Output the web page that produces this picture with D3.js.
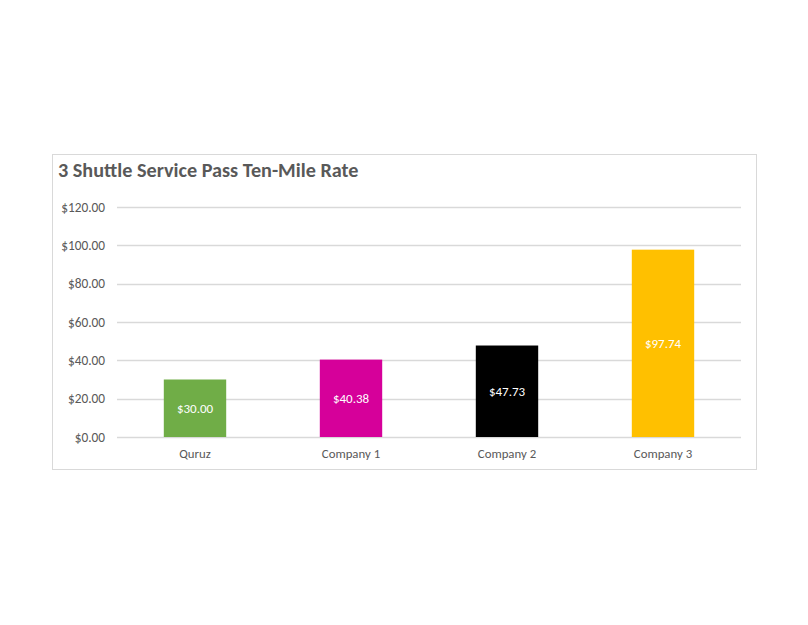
<!DOCTYPE html>
<html>
<head>
<meta charset="utf-8">
<script src="https://cdn.jsdelivr.net/npm/d3@7"></script>
<style>
  body { margin: 0; background: #fff; }
  text { font-family: Carlito, Calibri, Lato, "Open Sans", sans-serif; }
</style>
</head>
<body>
<div id="chart"></div>
<script>
// chart data
const categories = ["Quruz", "Company 1", "Company 2", "Company 3"];
const rates = [30.00, 40.38, 47.73, 97.74];
const barColors = ["#70AD47", "#D6009A", "#000000", "#FFC000"];
const yTicks = [0, 20, 40, 60, 80, 100, 120];

const width = 808;
const height = 625;

const svg = d3.select("#chart").append("svg")
    .attr("width", width)
    .attr("height", height);

// chart frame
svg.append("rect")
    .attr("x", 52.5).attr("y", 154.5)
    .attr("width", 704).attr("height", 315)
    .attr("fill", "#fff")
    .attr("stroke", "#d9d9d9")
    .attr("stroke-width", 1);

svg.append("text")
    .attr("x", 58).attr("y", 177)
    .attr("font-size", 20.2)
    .attr("font-weight", "bold")
    .attr("fill", "#595959")
    .text("3 Shuttle Service Pass Ten-Mile Rate");

const plotLeft = 117, plotRight = 741;

const x = d3.scaleBand()
    .domain(categories)
    .range([plotLeft, plotRight])
    .paddingInner(0.6)
    .paddingOuter(0.3);

const y = d3.scaleLinear()
    .domain([0, 120])
    .range([437, 207]);

// gridlines
svg.append("g")
    .selectAll("line")
    .data(yTicks)
    .enter()
    .append("line")
    .attr("x1", plotLeft).attr("x2", plotRight)
    .attr("y1", d => Math.round(y(d)) + 0.5)
    .attr("y2", d => Math.round(y(d)) + 0.5)
    .attr("stroke", "#d9d9d9")
    .attr("stroke-width", 1.3);

// y axis labels
const yAxis = d3.axisLeft(y)
    .tickValues(yTicks)
    .tickFormat(d => "$" + d3.format(".2f")(d))
    .tickSize(0)
    .tickPadding(0);

const yg = svg.append("g")
    .attr("transform", `translate(${plotLeft - 12},0)`)
    .call(yAxis);
yg.select(".domain").remove();
yg.selectAll("text")
    .attr("font-size", 13.3)
    .attr("fill", "#595959")
    .style("font-family", "Carlito, Calibri, Lato, 'Open Sans', sans-serif");

// bars
svg.selectAll(".bar")
    .data(rates)
    .enter()
    .append("rect")
    .attr("class", "bar")
    .attr("x", (d, i) => x(categories[i]))
    .attr("y", d => y(d))
    .attr("width", x.bandwidth())
    .attr("height", d => y(0) - y(d))
    .attr("fill", (d, i) => barColors[i]);

// value labels in middle of bar
svg.selectAll(".val")
    .data(rates)
    .enter()
    .append("text")
    .attr("class", "val")
    .attr("x", (d, i) => x(categories[i]) + x.bandwidth() / 2)
    .attr("y", d => (y(d) + y(0)) / 2)
    .attr("dy", "0.35em")
    .attr("text-anchor", "middle")
    .attr("font-size", 13)
    .attr("fill", "#fff")
    .text(d => "$" + d3.format(".2f")(d));

// category axis
const xAxis = d3.axisBottom(x).tickSize(0).tickPadding(0);
const xg = svg.append("g")
    .attr("transform", `translate(0,${y(0)})`)
    .call(xAxis);
xg.select(".domain").remove();
xg.selectAll("text")
    .attr("dy", null)
    .attr("y", 21)
    .attr("font-size", 12.8)
    .attr("fill", "#595959")
    .style("font-family", "Carlito, Calibri, Lato, 'Open Sans', sans-serif");
</script>
</body>
</html>
